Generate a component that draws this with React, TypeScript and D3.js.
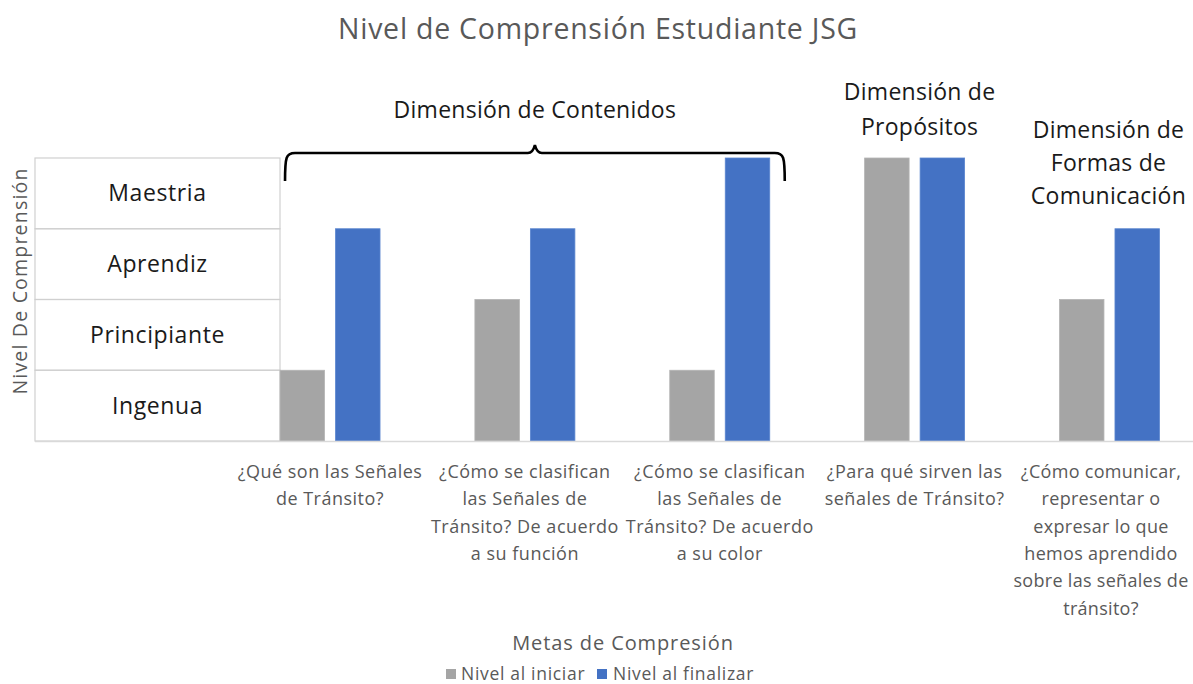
import React, { useEffect } from "react";
import * as d3 from "d3";

const categories = [
  "¿Qué son las Señales de Tránsito?",
  "¿Cómo se clasifican las Señales de Tránsito? De acuerdo a su función",
  "¿Cómo se clasifican las Señales de Tránsito? De acuerdo a su color",
  "¿Para qué sirven las señales de Tránsito?",
  "¿Cómo comunicar, representar o expresar lo que hemos aprendido sobre las señales de tránsito?",
];
const categoryLines = [
  ["¿Qué son las Señales", "de Tránsito?"],
  ["¿Cómo se clasifican", "las Señales de", "Tránsito? De acuerdo", "a su función"],
  ["¿Cómo se clasifican", "las Señales de", "Tránsito? De acuerdo", "a su color"],
  ["¿Para qué sirven las", "señales de Tránsito?"],
  ["¿Cómo comunicar,", "representar o", "expresar lo que", "hemos aprendido", "sobre las señales de", "tránsito?"],
];
const seriesNames = ["Nivel al iniciar", "Nivel al finalizar"];
const inicio = [1, 2, 1, 4, 2];
const final = [3, 3, 4, 4, 3];
const levels = ["Ingenua", "Principiante", "Aprendiz", "Maestria"];
const title = "Nivel de Comprensión Estudiante JSG";
const yTitle = "Nivel De Comprensión";
const xTitle = "Metas de Compresión";
const dimContenidos = ["Dimensión de Contenidos"];
const dimPropositos = ["Dimensión de", "Propósitos"];
const dimFormas = ["Dimensión de", "Formas de", "Comunicación"];

const W = 1193;
const H = 684;
const FONT = "'Open Sans', Lato, sans-serif";
const GRAY = "#A5A5A5";
const BLUE = "#4472C4";
const TXT = "#595959";

export default function App() {
  useEffect(() => {
    document.body.style.margin = "0";
  }, []);

  const x = d3.scaleBand<string>().domain(categories).range([232.6, 1206.9]).paddingInner(0).paddingOuter(0);
  const step = x.step();
  const groupW = 100;
  const barW = 44.5;
  const gap = groupW - 2 * barW;
  const y = d3.scaleLinear().domain([0, 4]).range([441, 158]);

  const tableX0 = 35;
  const tableX1 = 280;

  const bars: JSX.Element[] = [];
  categories.forEach((c, i) => {
    const gx = (x(c) as number) + (step - groupW) / 2;
    [inicio[i], final[i]].forEach((v, s) => {
      bars.push(
        <rect
          key={`${i}-${s}`}
          x={gx + s * (barW + gap)}
          y={y(v)}
          width={barW}
          height={y(0) - y(v)}
          fill={s === 0 ? GRAY : BLUE}
          stroke={s === 0 ? "#b4b4b4" : "#5a85cf"}
          strokeWidth={0.8}
        />
      );
    });
  });

  // brace over first three categories
  const bx0 = (x(categories[0]) as number) + (step - groupW) / 2 + 5;
  const bx1 = (x(categories[2]) as number) + (step - groupW) / 2 + groupW + 15;
  const bm = (bx0 + bx1) / 2;
  const byTop = 153;
  const byEnd = 181;
  const p = d3.path();
  p.moveTo(bx0, byEnd);
  p.bezierCurveTo(bx0, byTop + 4, bx0 + 1, byTop, bx0 + 10, byTop);
  p.lineTo(bm - 7, byTop);
  p.quadraticCurveTo(bm - 2, byTop, bm, byTop - 8);
  p.quadraticCurveTo(bm + 2, byTop, bm + 7, byTop);
  p.lineTo(bx1 - 10, byTop);
  p.bezierCurveTo(bx1 - 1, byTop, bx1, byTop + 4, bx1, byEnd);

  const c4 = (x(categories[3]) as number) + step / 2;
  const c5 = (x(categories[4]) as number) + step / 2;

  return (
    <svg width={W} height={H} style={{ display: "block", overflow: "hidden" }} fontFamily={FONT}>
      <rect width={W} height={H} fill="#fff" />
      <text x={598} y={39} textAnchor="middle" fontSize={28.5} letterSpacing={0.75} fill={TXT}>
        {title}
      </text>

      {/* table of levels */}
      {levels.map((l, i) => (
        <g key={l}>
          <rect x={tableX0} y={y(i + 1)} width={tableX1 - tableX0} height={y(i) - y(i + 1)} fill="none" stroke="#d0d0d0" strokeWidth={1.2} />
          <text x={(tableX0 + tableX1) / 2} y={(y(i) + y(i + 1)) / 2 + 8} textAnchor="middle" fontSize={23} letterSpacing={0.6} fill="#1a1a1a">
            {l}
          </text>
        </g>
      ))}

      <text transform={`translate(27,281) rotate(-90)`} textAnchor="middle" fontSize={19.5} letterSpacing={1.2} fill={TXT}>
        {yTitle}
      </text>

      {bars}
      <line x1={tableX0} x2={W} y1={y(0) + 0.5} y2={y(0) + 0.5} stroke="#d9d9d9" strokeWidth={1.5} />

      {/* category labels */}
      {categoryLines.map((lines, i) => {
        const cx = Math.min((x(categories[i]) as number) + step / 2, W - 92);
        return (
          <text key={i} textAnchor="middle" fontSize={18} letterSpacing={i === 4 ? 0.3 : 0.5} fill={TXT}>
            {lines.map((ln, j) => (
              <tspan key={j} x={cx} y={478 + j * 27.3}>
                {ln}
              </tspan>
            ))}
          </text>
        );
      })}

      {/* annotations */}
      <path d={p.toString()} fill="none" stroke="#000" strokeWidth={2.6} />
      <text x={bm} y={118} textAnchor="middle" fontSize={23} letterSpacing={0.25} fill="#1a1a1a">
        {dimContenidos[0]}
      </text>
      <text textAnchor="middle" fontSize={23} letterSpacing={0.25} fill="#1a1a1a">
        {dimPropositos.map((ln, j) => (
          <tspan key={j} x={c4 + 5} y={100 + j * 34.5}>
            {ln}
          </tspan>
        ))}
      </text>
      <text textAnchor="middle" fontSize={23} letterSpacing={0.25} fill="#1a1a1a">
        {dimFormas.map((ln, j) => (
          <tspan key={j} x={c5 - 1} y={138 + j * 33}>
            {ln}
          </tspan>
        ))}
      </text>

      {/* legend */}
      <text x={623} y={650} textAnchor="middle" fontSize={20} letterSpacing={0.9} fill={TXT}>
        {xTitle}
      </text>
      <rect x={446} y={669} width={10} height={10} fill={GRAY} />
      <text x={461} y={679.5} fontSize={17.5} letterSpacing={0.7} fill={TXT}>
        {seriesNames[0]}
      </text>
      <rect x={597} y={669} width={10} height={10} fill={BLUE} />
      <text x={613} y={679.5} fontSize={17.5} letterSpacing={0.7} fill={TXT}>
        {seriesNames[1]}
      </text>
    </svg>
  );
}
